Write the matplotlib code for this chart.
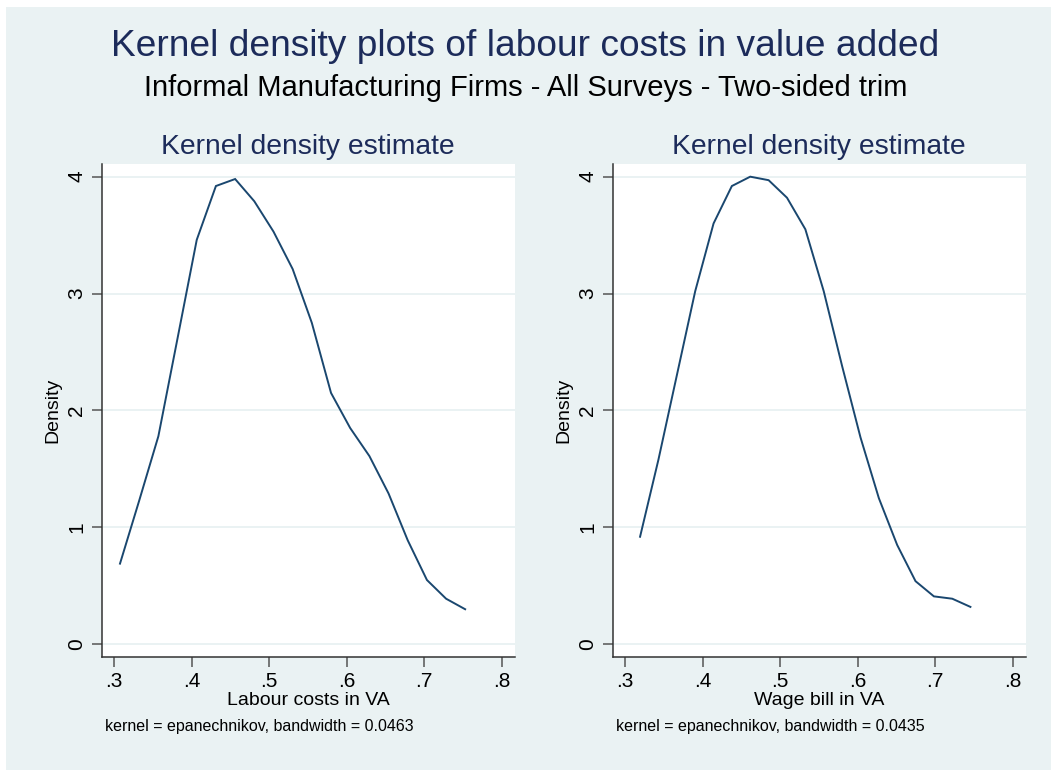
"""
Kernel density plots of labour costs in value added, two panels
(labour costs share and wage bill share), drawn in a Stata s2color look.
"""
import matplotlib

matplotlib.use("Agg")
import matplotlib.pyplot as plt
from matplotlib.patches import Rectangle

BG = "#eaf2f3"
LINE = "#1a476f"
TITLE = "#1c2b5a"

plt.rcParams["font.family"] = ["Liberation Sans", "DejaVu Sans"]

# density estimates on the evaluation grid
labour_x = [0.3077, 0.3325, 0.3572, 0.3820, 0.4067, 0.4314, 0.4562, 0.4809,
            0.5057, 0.5304, 0.5551, 0.5799, 0.6046, 0.6294, 0.6541, 0.6788,
            0.7036, 0.7283, 0.7529]
labour_y = [0.69, 1.23, 1.78, 2.62, 3.46, 3.92, 3.98, 3.79, 3.53, 3.21,
            2.75, 2.15, 1.85, 1.61, 1.29, 0.89, 0.55, 0.39, 0.30]

wage_x = [0.3194, 0.3431, 0.3668, 0.3905, 0.4142, 0.4378, 0.4615, 0.4852,
          0.5089, 0.5326, 0.5563, 0.5800, 0.6037, 0.6274, 0.6510, 0.6747,
          0.6984, 0.7221, 0.7455]
wage_y = [0.92, 1.58, 2.30, 3.02, 3.60, 3.92, 4.00, 3.97, 3.82, 3.55,
          3.02, 2.38, 1.77, 1.25, 0.85, 0.54, 0.41, 0.39, 0.32]

panels = [
    ("Labour costs in VA", "kernel = epanechnikov, bandwidth = 0.0463", labour_x, labour_y),
    ("Wage bill in VA", "kernel = epanechnikov, bandwidth = 0.0435", wage_x, wage_y),
]
x_ticks = [0.3, 0.4, 0.5, 0.6, 0.7, 0.8]
x_ticklabels = [".3", ".4", ".5", ".6", ".7", ".8"]
y_ticks = [0, 1, 2, 3, 4]

W, H = 1051, 770
fig = plt.figure(figsize=(W / 100, H / 100), dpi=100)
fig.patch.set_facecolor("white")
fig.add_artist(Rectangle((6 / W, 0), 1 - 6 / W, 1 - 7 / H, transform=fig.transFigure,
                         facecolor=BG, edgecolor="none", zorder=-10))

fig.text(0.5, 1 - 46 / H, "Kernel density plots of labour costs in value added",
         ha="center", va="center", fontsize=26.7, color=TITLE)
fig.text(0.5, 1 - 88 / H, "Informal Manufacturing Firms - All Surveys - Two-sided trim",
         ha="center", va="center", fontsize=21, color="black")

lefts = [101.7, 612.7]
for left, (xlabel, note, xs, ys) in zip(lefts, panels):
    ax = fig.add_axes([left / W, 1 - 656.7 / H, 413 / W, 493 / H])
    ax.set_facecolor("white")
    ax.plot(xs, ys, color=LINE, lw=1.4, solid_joinstyle="miter")
    ax.set_xlim(0.2841, 0.8168)
    ax.set_ylim(-0.106, 4.111)
    ax.set_xticks(x_ticks)
    ax.set_xticklabels(x_ticklabels, fontsize=15)
    ax.set_yticks(y_ticks)
    ax.set_yticklabels([str(v) for v in y_ticks], fontsize=15, rotation=90, va="center")
    ax.tick_params(length=7, width=1.1, color="#555555", pad=4)
    ax.grid(axis="y", color=BG, lw=1.4)
    ax.set_axisbelow(True)
    for side in ("top", "right"):
        ax.spines[side].set_visible(False)
    for side in ("left", "bottom"):
        ax.spines[side].set_color("#333333")
        ax.spines[side].set_linewidth(1.1)
    ax.set_title("Kernel density estimate", fontsize=20.3, color=TITLE, pad=7)
    ax.set_ylabel("Density", fontsize=14, labelpad=4)
    ax.set_xlabel(xlabel, fontsize=14, labelpad=1)
    fig.text((left + 3.5) / W, 1 - 726 / H, note, ha="left", va="center", fontsize=11.5)

fig.savefig("out.png", dpi=100, facecolor=fig.get_facecolor())
